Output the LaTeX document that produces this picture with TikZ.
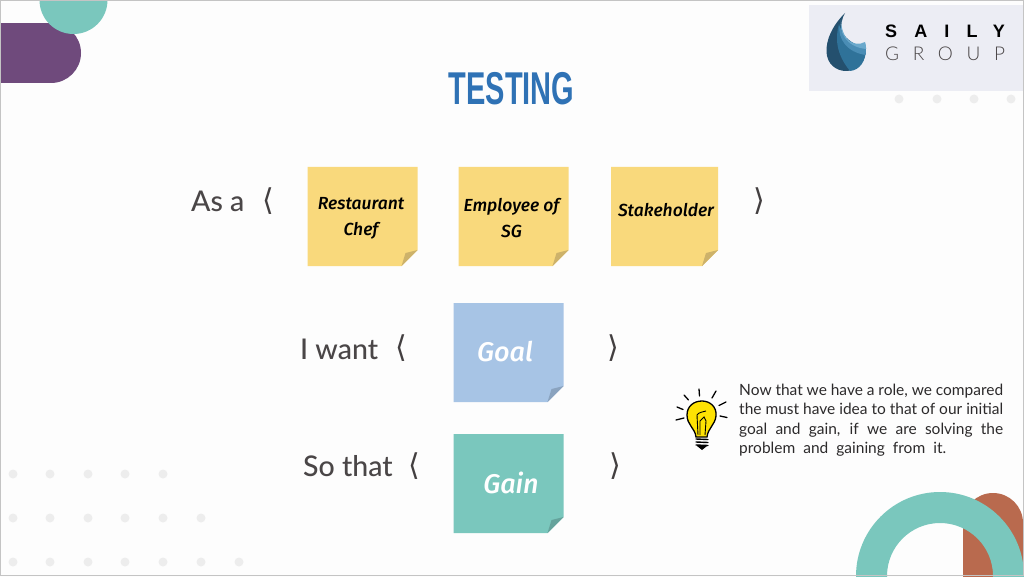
\documentclass[tikz,border=0pt]{standalone}
\usepackage{fontspec}
\setmainfont{Lato}
\newfontfamily\labelfont{Lato Medium}
\newfontfamily\handfont{Fira Sans Medium Italic}
\newfontfamily\titlefont{Liberation Sans Bold}
\newfontfamily\symfont{DejaVu Sans}
\newfontfamily\logoboldfont[LetterSpace=95]{Liberation Sans Bold}
\newfontfamily\logolightfont[LetterSpace=72]{Lato Light}
\definecolor{bgc}{HTML}{FDFDFD}
\definecolor{framec}{HTML}{C4C4C4}
\definecolor{purplec}{HTML}{6F4A7C}
\definecolor{tealc}{HTML}{7AC7BD}
\definecolor{brownc}{HTML}{B96A4E}
\definecolor{logoc}{HTML}{ECEDF4}
\definecolor{dotc}{HTML}{EDEDED}
\definecolor{titlec}{HTML}{2F72B5}
\definecolor{inkc}{HTML}{4A4647}
\definecolor{yellowc}{HTML}{F9D97C}
\definecolor{yellowf}{HTML}{CDB26A}
\definecolor{bluec}{HTML}{A7C4E5}
\definecolor{bluef}{HTML}{8AA3BF}
\definecolor{tealf}{HTML}{65A39C}
\definecolor{dropa}{HTML}{24506E}
\definecolor{dropb}{HTML}{2F7299}
\definecolor{dropc}{HTML}{4A8DB5}
\definecolor{dropd}{HTML}{6BA9CC}
\tikzset{
  x=1pt,y=-1pt,
  bgdot/.style={circle,fill=dotc,draw=none,minimum size=9pt,inner sep=0pt},
  saytext/.style={font=\labelfont\fontsize{28.5}{30}\selectfont,text=inkc,inner sep=0pt,anchor=base west},
  brk/.style={font=\symfont\fontsize{30}{30}\selectfont,text=inkc!90!black,inner sep=0pt},
  handblack/.style={font=\handfont\fontsize{17.5}{26}\selectfont,text=black,align=center,inner sep=0pt},
  handwhite/.style={font=\handfont\fontsize{27}{30}\selectfont,text=white,align=center,inner sep=0pt},
  ray/.style={line width=1.3pt,black,line cap=round},
  pics/sticky/.style n args={4}{code={
    \fill[#3] (0,0) -- (#1,0) -- (#1,#2-16) -- (#1-16,#2) -- (0,#2) -- cycle;
    \fill[#4] (#1-16,#2) -- (#1-12,#2-13) -- (#1,#2-16) -- cycle;
  }}
}
\begin{document}
\begin{tikzpicture}
\useasboundingbox (0,0) rectangle (1024,577);
\fill[bgc] (0,0) rectangle (1024,577);
% decorative shapes
\begin{scope}
\clip (0,0) rectangle (1024,577);
\fill[purplec] (0,23) rectangle (51,83);
\fill[purplec] (51,53) circle[radius=30];
\fill[tealc] (73.5,0) circle[radius=34];
\fill[logoc] (809,5) rectangle (1024,91);
\fill[brownc] (963,523) rectangle (1023,577);
\fill[brownc] (993,523) circle[radius=30];
\fill[tealc,even odd rule] (940,576) circle[radius=84] (940,576) circle[radius=53];
\end{scope}
% background dots
\foreach \x in {899,937,974,1011} \node[bgdot] (t\x) at (\x,99) {};
\foreach \x in {13,50,88,125,163} \node[bgdot] (a\x) at (\x,474) {};
\foreach \x in {13,50,88,125,163,201} \node[bgdot] (b\x) at (\x,518) {};
\foreach \x in {13,50,88,125,163,201,239} \node[bgdot] (c\x) at (\x,562) {};
% logo drop
\fill[dropa] (845,13) .. controls (832,26) and (826,40) .. (826.5,52) .. controls (827,64) and (836,71) .. (846,71) .. controls (858,71) and (866,62) .. (866,48) .. controls (856,46) and (846,40) .. (842,32) .. controls (840,26) and (842,18) .. (845,13) -- cycle;
\fill[dropb] (839,24) .. controls (835,38) and (836,54) .. (850,71) .. controls (860,70) and (866,61) .. (866,48) .. controls (856,46) and (846,40) .. (842,32) -- cycle;
\fill[dropc] (839.5,26) .. controls (838,38) and (846,52) .. (865.5,55) .. controls (866,52) and (866,50) .. (866,48) .. controls (856,46) and (846,40) .. (842,32) -- cycle;
\fill[dropd] (841,20) .. controls (839,32) and (846,47) .. (866,49) .. controls (866,46) and (866,44) .. (865,42) .. controls (860,45) and (852,44) .. (848,40) .. controls (844,36) and (841,28) .. (841,20) -- cycle;
\node[font=\logoboldfont\fontsize{18}{18}\selectfont,text=black,inner sep=0pt,anchor=base west] (saily) at (885,37.5) {SAILY};
\node[font=\logolightfont\fontsize{19}{19}\selectfont,text=inkc,inner sep=0pt,anchor=base west] (group) at (885,60.5) {GROUP};
% title
\node[font=\titlefont\fontsize{46}{46}\selectfont,text=titlec,inner sep=0pt] (title) at (511.5,89) {\scalebox{0.63}[1]{TESTING}};
% row labels
\node[saytext] (asa) at (191,212) {As a};
\node[saytext] (iwant) at (300,359) {I want};
\node[saytext] (sothat) at (303,476) {So that};
\node[brk] (l1) at (268.5,201) {⟨};
\node[brk] (r1) at (759.5,201) {⟩};
\node[brk] (l2) at (401,348) {⟨};
\node[brk] (r2) at (613.5,348) {⟩};
\node[brk] (l3) at (414.5,466) {⟨};
\node[brk] (r3) at (615.5,466) {⟩};
% stickies
\pic at (307.5,167) {sticky={110}{99}{yellowc}{yellowf}};
\pic at (458.5,167) {sticky={110}{99}{yellowc}{yellowf}};
\pic at (611,167) {sticky={107}{99}{yellowc}{yellowf}};
\pic at (453.5,303) {sticky={110}{99}{bluec}{bluef}};
\pic at (453.5,434) {sticky={110}{99}{tealc}{tealf}};
\node[handblack] (chef) at (361,218) {Restaurant\\Chef};
\node[handblack] (emp) at (511.5,218) {Employee of\\SG};
\node[handblack] (stake) at (666,210) {Stakeholder};
\node[handwhite] (goal) at (505,352) {Goal};
\node[handwhite] (gain) at (511,483) {Gain};
% light bulb
\begin{scope}
\fill[yellow!85!orange,draw=black,line width=1.3pt] (696,437) .. controls (695,428) and (687,425) .. (687,415) .. controls (687,406) and (694,401) .. (702,401) .. controls (710,401) and (717,407) .. (716,416) .. controls (715,425) and (708,428) .. (707,437) -- cycle;
\draw[black,line width=0.9pt] (698,435) -- (697,415) .. controls (699,412) and (703,412) .. (706,411);
\draw[black,line width=0.9pt] (700,435) -- (700,421) -- (704,417) -- (706,421) -- (705,435);
\foreach \yy in {439,442,445} \draw[black,line width=1.4pt,line cap=round] (696,\yy) -- (708,\yy+0.5);
\fill[black] (697,446) -- (707,446) -- (702,450) -- cycle;
\draw[ray] (699,389) -- (699.5,396);
\draw[ray] (684,395) -- (688.5,400);
\draw[ray] (716,391) -- (712,398);
\draw[ray] (677,407) -- (683,409.5);
\draw[ray] (726,402) -- (719,405.5);
\draw[ray] (676,420) -- (684,418);
\draw[ray] (720,416) -- (727,417.5);
\end{scope}
% note
\node[font=\fontsize{15.5}{19.2}\selectfont,text=inkc!60!black,inner sep=0pt,anchor=north west,align=left] (note) at (739,384) {%
\makebox[264pt][s]{Now that we have a role, we compared}\\
\makebox[264pt][s]{the must have idea to that of our initial}\\
\makebox[264pt][s]{goal and gain, if we are solving the}\\
\makebox[207pt][s]{problem and gaining from it.}};
% frame
\draw[framec,line width=1.2pt] (0.6,0.6) rectangle (1023.4,575.8);
\end{tikzpicture}
\end{document}
